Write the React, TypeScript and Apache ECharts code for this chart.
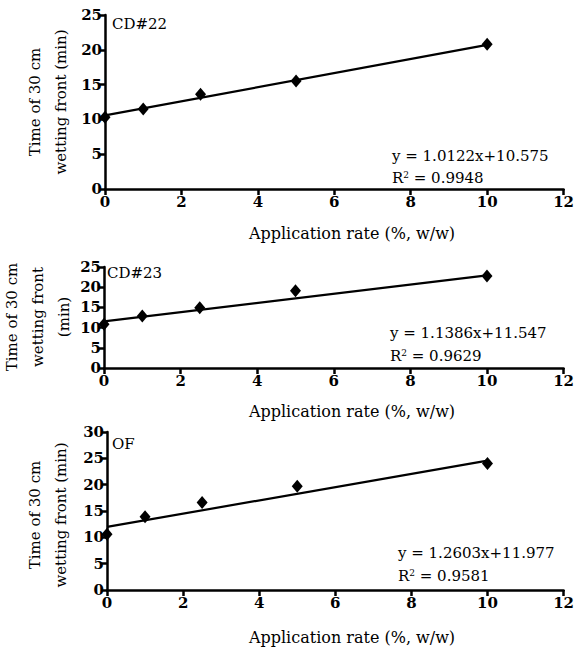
import React, { useEffect, useRef } from "react";
import * as echarts from "echarts";

const rates = [0, 1, 2.5, 5, 10];
const cd22 = [10.3, 11.5, 13.6, 15.5, 20.8];
const cd23 = [10.8, 12.9, 14.9, 19.1, 22.8];
const of = [10.6, 13.9, 16.6, 19.7, 24.0];
const panelValues = [cd22, cd23, of];
const panelNames = ["CD#22", "CD#23", "OF"];
const slopes = [1.0122, 1.1386, 1.2603];
const intercepts = [10.575, 11.547, 11.977];
const r2Text = ["0.9948", "0.9629", "0.9581"];
const eqText = ["y = 1.0122x+10.575", "y = 1.1386x+11.547", "y = 1.2603x+11.977"];
const yMaxes = [25, 25, 30];
const trendX = [0, 10];
const xTitle = "Application rate (%, w/w)";
const yTitles = ["Time of 30 cm\nwetting front (min)", "Time of 30 cm\nwetting front\n(min)", "Time of 30 cm\nwetting front (min)"];

const FONT = "'DejaVu Serif', serif";

const grids = [
  { left: 105, top: 15, width: 462, height: 174 },
  { left: 104, top: 267, width: 463, height: 101 },
  { left: 107, top: 432, width: 461, height: 158 },
];
const yTitlePos = [
  { x: 48, y: 102 },
  { x: 38, y: 317 },
  { x: 48, y: 515 },
];
const xTitlePos = [233, 411, 637];
const labelPos = [
  { x: 112, y: 24 },
  { x: 107, y: 273 },
  { x: 112, y: 444 },
];
const eqPos = [
  { x: 392, y: 156, y2: 178 },
  { x: 390, y: 333, y2: 356 },
  { x: 398, y: 553, y2: 576 },
];

export default function App() {
  const ref = useRef<HTMLDivElement>(null);
  useEffect(() => {
    document.body.style.margin = "0";
    const chart = echarts.init(ref.current!, null, { renderer: "svg" });
    const axisCommon = {
      axisLine: { show: true, lineStyle: { color: "#000", width: 2.5 } },
      axisTick: { show: true, inside: false, length: 6, lineStyle: { color: "#000", width: 2.5 } },
      splitLine: { show: false },
      axisLabel: { color: "#000", fontFamily: FONT, fontSize: 15, fontWeight: "bold" as const },
    };
    const xAxis = grids.map((_, i) => ({
      type: "value" as const,
      gridIndex: i,
      min: 0,
      max: 12,
      interval: 2,
      ...axisCommon,
      axisLabel: { ...axisCommon.axisLabel, margin: 5 },
    }));
    const yAxis = grids.map((_, i) => ({
      type: "value" as const,
      gridIndex: i,
      min: 0,
      max: yMaxes[i],
      interval: 5,
      ...axisCommon,
      axisLabel: { ...axisCommon.axisLabel, margin: 3 },
    }));
    const series: any[] = [];
    panelValues.forEach((vals, i) => {
      series.push({
        type: "line",
        xAxisIndex: i,
        yAxisIndex: i,
        data: trendX.map((x) => [x, slopes[i] * x + intercepts[i]]),
        symbol: "none",
        lineStyle: { color: "#000", width: 2.2 },
        z: 2,
      });
      series.push({
        type: "scatter",
        xAxisIndex: i,
        yAxisIndex: i,
        data: rates.map((x, j) => [x, vals[j]]),
        symbol: "diamond",
        symbolSize: [11, 13],
        itemStyle: { color: "#000", opacity: 1 },
        z: 3,
      });
    });
    const graphic: any[] = [];
    grids.forEach((g, i) => {
      graphic.push({
        type: "text",
        x: yTitlePos[i].x,
        y: yTitlePos[i].y,
        rotation: Math.PI / 2,
        style: {
          text: yTitles[i],
          fontFamily: FONT,
          fontSize: 15,
          lineHeight: 26,
          fill: "#000",
          align: "center",
          verticalAlign: "middle",
        },
      });
      graphic.push({
        type: "text",
        x: 352,
        y: xTitlePos[i],
        style: {
          text: xTitle,
          fontFamily: FONT,
          fontSize: 16,
          fill: "#000",
          align: "center",
          verticalAlign: "middle",
        },
      });
      graphic.push({
        type: "text",
        x: labelPos[i].x,
        y: labelPos[i].y,
        style: {
          text: panelNames[i],
          fontFamily: FONT,
          fontSize: 15,
          fill: "#000",
          align: "left",
          verticalAlign: "middle",
        },
      });
      graphic.push({
        type: "text",
        x: eqPos[i].x,
        y: eqPos[i].y,
        style: {
          text: eqText[i],
          fontFamily: FONT,
          fontSize: 15,
          fill: "#000",
          align: "left",
          verticalAlign: "middle",
        },
      });
      graphic.push({
        type: "text",
        x: eqPos[i].x,
        y: eqPos[i].y2,
        style: {
          text: "R{sup|2} = " + r2Text[i],
          fontFamily: FONT,
          fontSize: 15,
          fill: "#000",
          align: "left",
          verticalAlign: "middle",
          rich: {
            sup: { fontFamily: FONT, fontSize: 9, verticalAlign: "top", padding: [0, 0, 6, 0] },
          },
        },
      });
    });
    chart.setOption({
      animation: false,
      backgroundColor: "#fff",
      grid: grids.map((g) => ({ ...g, containLabel: false })),
      xAxis,
      yAxis,
      series,
      graphic,
    });
    return () => chart.dispose();
  }, []);
  return <div ref={ref} style={{ width: 577, height: 650 }} />;
}
